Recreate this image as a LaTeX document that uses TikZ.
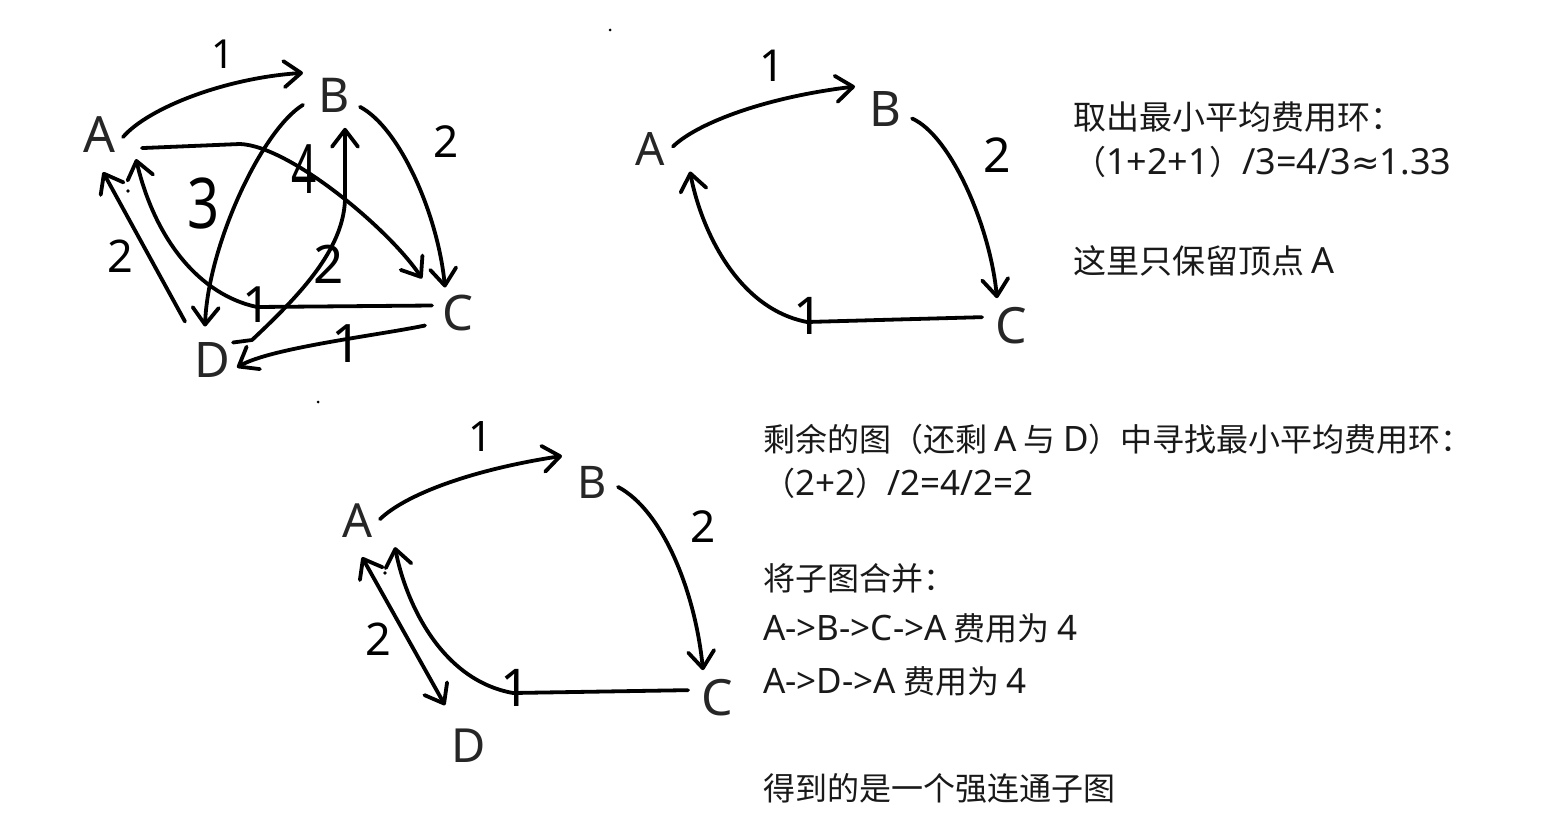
\documentclass[tikz,border=0pt]{standalone}
\usepackage{fontspec}
\usepackage{graphicx}
\setmainfont{Noto Sans}
\newfontfamily\cjkfont{Noto Sans CJK SC}
\newfontfamily\latfont{Noto Sans}
\newfontfamily\symfont{DejaVu Sans}
\newcommand{\latA}[1]{{\latfont\fontsize{36}{36}\selectfont #1}}
\newcommand{\latB}[1]{{\latfont\fontsize{35}{35}\selectfont #1}}
\usetikzlibrary{arrows.meta}
\begin{document}
\begin{tikzpicture}[x=1pt,y=-1pt,
  edge/.style={line width=3.8pt, line cap=round, line join=round},
  barb/.tip={Straight Barb[length=17pt,width=26pt,round]},
  arr/.style={edge, -barb},
  vtx/.style={inner sep=0pt, anchor=base, text=black!85, font=\fontsize{#1}{#1}\selectfont},
  wt/.style={inner sep=0pt, font=\fontsize{#1}{#1}\selectfont},
  txt/.style={inner sep=0pt, anchor=base west, text=black!90, font=\cjkfont\fontsize{#1}{#1}\selectfont}]
\fill[white] (0,0) rectangle (1553,840);
\useasboundingbox (0,0) rectangle (1553,840);

% ---------- graph 1 ----------
\node[vtx=50] (gA) at (99,153) {A};
\node[vtx=48] (gB) at (334,113) {B};
\node[vtx=49] (gC) at (458,330) {C};
\node[vtx=49] (gD) at (212,377) {D};

\draw[arr] ([shift={(24,2)}]gA.center) .. controls (148,108) and (225,78) .. ([shift={(-31,-23)}]gB.center);
\node[wt=40] (g1w1) at (223,54) {1};

\draw[arr] ([shift={(-31,9)}]gB.center) .. controls (262,130) and (208,245) .. ([shift={(-7,-33)}]gD.center);
\node[wt=70] (g1w2) at (204,204) {\scalebox{0.8}[1]{3}};

\draw[arr] ([shift={(43,13)}]gA.center) -- (240,144) .. controls (290,146) and (390,230) .. ([shift={(-36,-34)}]gC.center);
\node[wt=68] (g1w3) at (304,169) {\scalebox{0.65}[1]{4}};

\draw[arr] ([shift={(26,11)}]gB.center) .. controls (400,128) and (438,215) .. ([shift={(-13,-25)}]gC.center);
\node[wt=44] (g1w4) at (446,142) {2};

\draw[arr] ([shift={(21,-17)}]gD.center) -- (252,340) .. controls (300,295) and (343,250) .. (345,200) -- ([shift={(11,32)}]gB.center);
\node[wt=53] (g1w5) at (329,264) {2};

\draw[arr] ([shift={(-33,13)}]gC.center) .. controls (380,335) and (270,348) .. ([shift={(25,8)}]gD.center);
\node[wt=53] (g1w6) at (347,344) {1};

\draw[arr] ([shift={(-26,-7)}]gC.center) -- (257,307) .. controls (200,295) and (155,240) .. ([shift={(37,24)}]gA.center);
\node[wt=50] (g1w7) at (257,305) {1};

\draw[arr] ([shift={(-27,-38)}]gD.center) -- ([shift={(4,37)}]gA.center);
\node[wt=45] (g1w8) at (120,256) {2};

\fill (128,191) circle (1.8pt);
\fill (610,30) circle (1.5pt);
\fill (318,402) circle (1.5pt);

% ---------- graph 2 ----------
\node[vtx=46] (hA) at (650,165) {A};
\node[vtx=49] (hB) at (885,127) {B};
\node[vtx=50] (hC) at (1011,343) {C};

\draw[arr] ([shift={(23,-2)}]hA.center) .. controls (695,125) and (760,98) .. ([shift={(-30,-23)}]hB.center);
\node[wt=44] (g2w1) at (772,66) {1};

\draw[arr] ([shift={(27,9)}]hB.center) .. controls (950,135) and (990,225) .. ([shift={(-14,-27)}]hC.center);
\node[wt=48] (g2w2) at (997,155) {2};

\draw[arr] ([shift={(-29,-8)}]hC.center) -- (807,322) .. controls (735,308) and (700,225) .. ([shift={(40,23)}]hA.center);
\node[wt=52] (g2w3) at (808,316) {1};

% ---------- graph 3 ----------
\node[vtx=47] (kA) at (358,537) {A};
\node[vtx=45] (kB) at (592,498) {B};
\node[vtx=50] (kC) at (717,715) {C};
\node[vtx=47] (kD) at (469,762) {D};

\draw[arr] ([shift={(22,-1)}]kA.center) .. controls (405,495) and (470,470) .. ([shift={(-30,-26)}]kB.center);
\node[wt=42] (g3w1) at (481,437) {1};

\draw[arr] ([shift={(26,5)}]kB.center) .. controls (662,510) and (695,590) .. ([shift={(-14,-27)}]kC.center);
\node[wt=44] (g3w2) at (703,527) {2};

\draw[arr] ([shift={(-29,-7)}]kC.center) -- (513,693) .. controls (440,680) and (405,600) .. ([shift={(37,27)}]kA.center);
\node[wt=52] (g3w3) at (515,688) {1};

\draw[edge, barb-barb] ([shift={(4,37)}]kA.center) -- ([shift={(-24,-40)}]kD.center);
\node[wt=45] (g3w4) at (378,639) {2};

\fill (385,573) circle (1.8pt);

% ---------- text ----------
\node[txt=33] (t1) at (1073,130) {取出最小平均费用环：};
\node[txt=33] (t2) at (1073,175) {（\latA{1+2+1}）\latA{/3=4/3}{\symfont\fontsize{34}{34}\selectfont ≈}\latA{1.33}};
\node[txt=33] (t3) at (1073,273) {这里只保留顶点 \latA{A}};
\node[txt=32] (t4) at (763,451) {剩余的图（还剩 \latB{A} 与 \latB{D}）中寻找最小平均费用环：};
\node[txt=32] (t5) at (763,495) {（\latB{2+2}）\latB{/2=4/2=2}};
\node[txt=32] (t6) at (763,590) {将子图合并：};
\node[txt=32] (t7) at (763,640) {\latB{A->B->C->A} 费用为 \latB{4}};
\node[txt=32] (t8) at (763,693) {\latB{A->D->A} 费用为 \latB{4}};
\node[txt=32] (t9) at (763,800) {得到的是一个强连通子图};
\end{tikzpicture}
\end{document}
